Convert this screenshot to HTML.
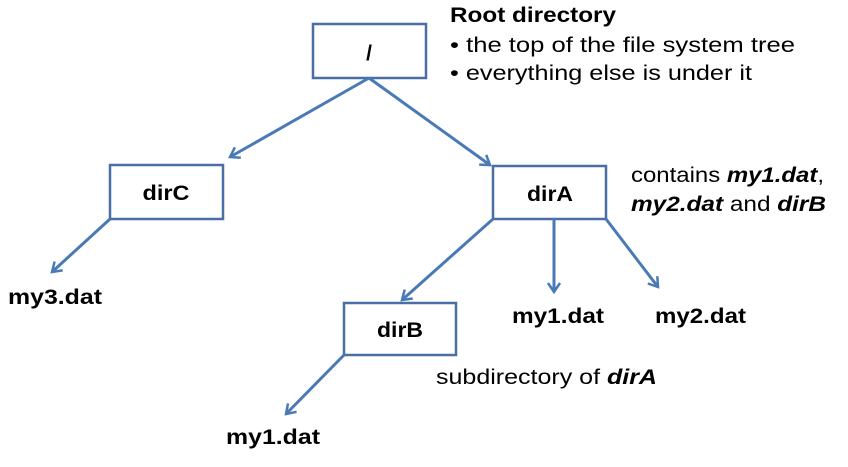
<!DOCTYPE html>
<html><head><style>
body{margin:0;background:#fff;}
svg text{font-family:"Liberation Sans",sans-serif;fill:#000;}
</style></head><body>
<svg width="848" height="462" viewBox="0 0 848 462" xmlns="http://www.w3.org/2000/svg">
<defs><marker id="a" markerWidth="14" markerHeight="14" refX="10" refY="7" orient="auto" markerUnits="userSpaceOnUse"><path d="M1,1 L10,7 L1,13" fill="none" stroke="#4a7ab5" stroke-width="2.5"/></marker></defs>
<g fill="#fff" stroke="#4a6fa5" stroke-width="2.5">
<rect x="313" y="24" width="113" height="54"/>
<rect x="110" y="165" width="113" height="54"/>
<rect x="493" y="166" width="113" height="53"/>
<rect x="344" y="303" width="112" height="52"/>
</g>
<g stroke="#4a7ab5" stroke-width="3" fill="none" marker-end="url(#a)">
<line x1="369" y1="78" x2="230" y2="157"/>
<line x1="369" y1="78" x2="490" y2="165"/>
<line x1="493" y1="219" x2="402" y2="300"/>
<line x1="554" y1="219" x2="554" y2="292"/>
<line x1="606" y1="219" x2="658" y2="287"/>
<line x1="110" y1="219" x2="52" y2="272"/>
<line x1="344" y1="355" x2="286" y2="414"/>
</g>
<g font-weight="bold" font-size="21" text-anchor="middle">
<text x="369" y="60">/</text>
<text x="166" y="200" textLength="47" lengthAdjust="spacingAndGlyphs">dirC</text>
<text x="550" y="201" textLength="46" lengthAdjust="spacingAndGlyphs">dirA</text>
<text x="400" y="337" textLength="46" lengthAdjust="spacingAndGlyphs">dirB</text>
</g>
<g font-weight="bold" font-size="21">
<text x="8" y="304" textLength="94" lengthAdjust="spacingAndGlyphs">my3.dat</text>
<text x="512" y="323" textLength="92" lengthAdjust="spacingAndGlyphs">my1.dat</text>
<text x="655" y="323" textLength="91" lengthAdjust="spacingAndGlyphs">my2.dat</text>
<text x="226" y="444" textLength="94" lengthAdjust="spacingAndGlyphs">my1.dat</text>
<text x="450" y="22" textLength="166" lengthAdjust="spacingAndGlyphs">Root directory</text>
</g>
<g font-size="21">
<text x="450" y="52" textLength="345" lengthAdjust="spacingAndGlyphs">• the top of the file system tree</text>
<text x="450" y="80" textLength="302" lengthAdjust="spacingAndGlyphs">• everything else is under it</text>
<text x="631" y="182" textLength="193" lengthAdjust="spacingAndGlyphs">contains <tspan font-weight="bold" font-style="italic">my1.dat</tspan>,</text>
<text x="631" y="211" textLength="195" lengthAdjust="spacingAndGlyphs"><tspan font-weight="bold" font-style="italic">my2.dat</tspan> and <tspan font-weight="bold" font-style="italic">dirB</tspan></text>
<text x="436" y="384" textLength="221" lengthAdjust="spacingAndGlyphs">subdirectory of <tspan font-weight="bold" font-style="italic">dirA</tspan></text>
</g>
</svg>
</body></html>
